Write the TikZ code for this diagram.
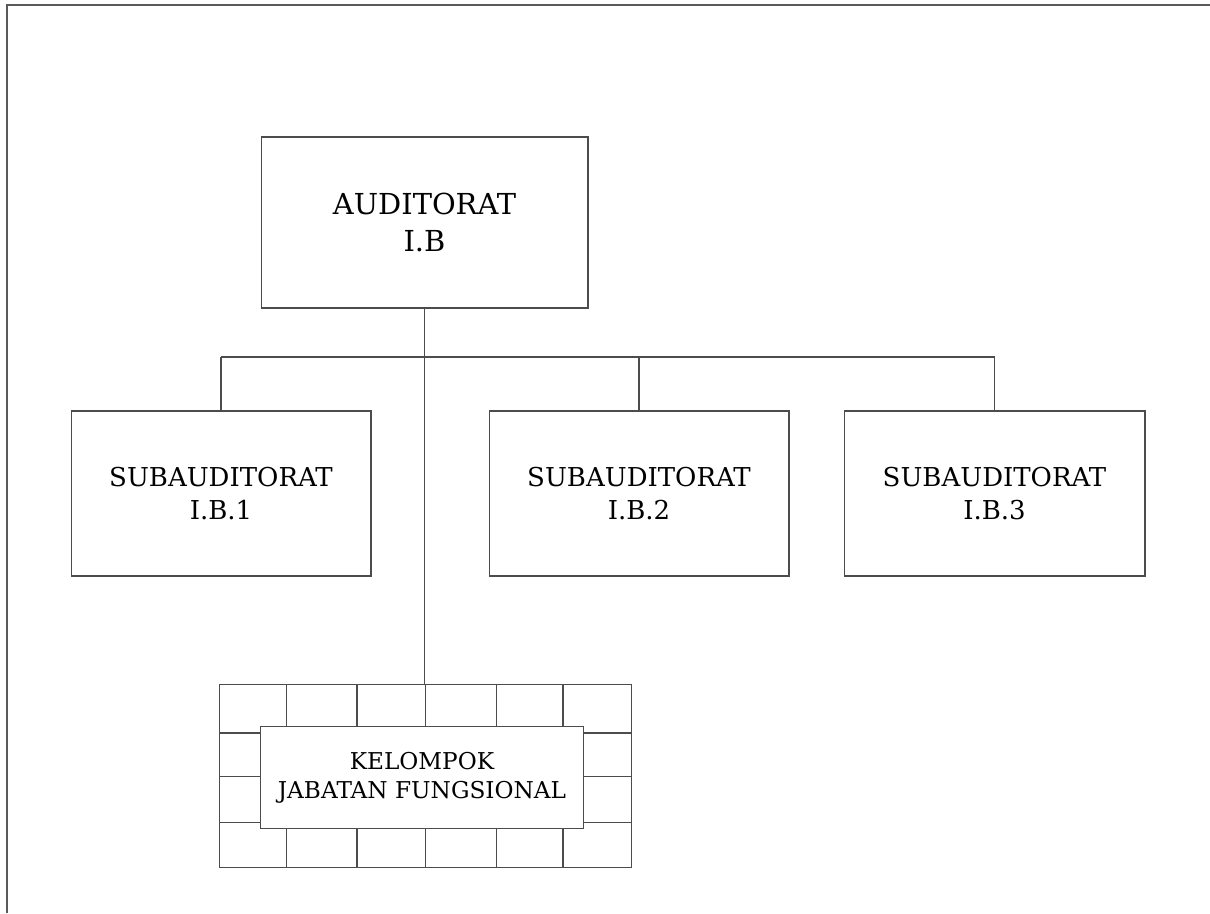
\documentclass[tikz,border=0pt]{standalone}
\usepackage{fontspec}
\setmainfont{DejaVu Serif}
\begin{document}
\begin{tikzpicture}[x=0.02cm,y=-0.02cm,
  ln/.style={draw=black!70,line width=0.6pt},
  unitbox/.style={ln,rectangle,align=center,inner sep=0pt},
  topfont/.style={font=\fontsize{16.45}{20.8}\selectfont},
  subfont/.style={font=\fontsize{14.8}{18.7}\selectfont},
  jffont/.style={font=\fontsize{13.2}{16.4}\selectfont}]
\useasboundingbox (0,0) rectangle (1210,913);
% frame
\coordinate (fbl) at (7,913);
\coordinate (ftl) at (7,5);
\coordinate (ftr) at (1210,5);
\draw[draw=black!65,line width=1.2pt] (fbl) -- (ftl) -- (ftr);
% boxes
\node[unitbox,topfont,minimum width=6.54cm,minimum height=3.42cm] (top) at (424.5,222.5) {AUDITORAT\\I.B};
\node[unitbox,subfont,minimum width=6.0cm,minimum height=3.3cm] (s1) at (221,493.5) {SUBAUDITORAT\\I.B.1};
\node[unitbox,subfont,minimum width=6.0cm,minimum height=3.3cm] (s2) at (639,493.5) {SUBAUDITORAT\\I.B.2};
\node[unitbox,subfont,minimum width=6.02cm,minimum height=3.3cm] (s3) at (994.5,493.5) {SUBAUDITORAT\\I.B.3};
% grid
\node[ln,rectangle,minimum width=8.24cm,minimum height=3.66cm,inner sep=0pt] (grid) at (425.7,776.35) {};
\foreach \gx in {286.3,357,425.7,496.3,563}{
  \draw[ln] (\gx,685) -- (\gx,867.7);
}
\foreach \gy in {733,776.7,822.3}{
  \draw[ln] (219.7,\gy) -- (631.7,\gy);
}
\node[unitbox,jffont,fill=white,minimum width=6.45cm,minimum height=2.05cm] (jf) at (422,777.6) {KELOMPOK\\JABATAN FUNGSIONAL};
% connectors
\coordinate (busl) at (221,357);
\coordinate (busr) at (994.5,357);
\draw[ln] (busl) -- (busr);
\draw[ln] (s1.north) -- (s1.north |- busl);
\draw[ln] (s2.north) -- (s2.north |- busl);
\draw[ln] (s3.north) -- (s3.north |- busl);
\draw[ln] (top.south) -- (top.south |- grid.north);
\end{tikzpicture}
\end{document}
